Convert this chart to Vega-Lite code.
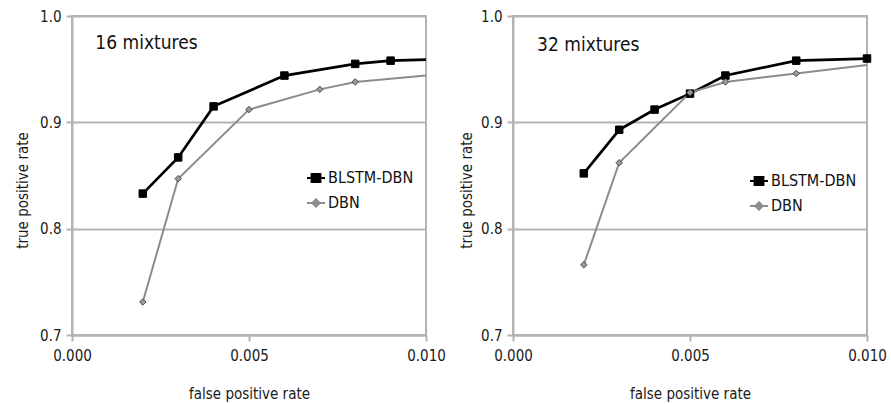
{
  "$schema": "https://vega.github.io/schema/vega-lite/v6.json",
  "padding": {"left": 14, "top": 8, "right": 0, "bottom": 0},
  "autosize": {"type": "pad"},
  "bounds": "flush",
  "spacing": 87,
  "data": {
    "values": [
      {"panel": "16", "series": "BLSTM-DBN", "fpr": 0.002, "tpr": 0.833},
      {"panel": "16", "series": "BLSTM-DBN", "fpr": 0.003, "tpr": 0.867},
      {"panel": "16", "series": "BLSTM-DBN", "fpr": 0.004, "tpr": 0.915},
      {"panel": "16", "series": "BLSTM-DBN", "fpr": 0.006, "tpr": 0.944},
      {"panel": "16", "series": "BLSTM-DBN", "fpr": 0.008, "tpr": 0.955},
      {"panel": "16", "series": "BLSTM-DBN", "fpr": 0.009, "tpr": 0.958},
      {"panel": "16", "series": "BLSTM-DBN", "fpr": 0.011, "tpr": 0.960},
      {"panel": "16", "series": "DBN", "fpr": 0.002, "tpr": 0.731},
      {"panel": "16", "series": "DBN", "fpr": 0.003, "tpr": 0.847},
      {"panel": "16", "series": "DBN", "fpr": 0.005, "tpr": 0.912},
      {"panel": "16", "series": "DBN", "fpr": 0.007, "tpr": 0.931},
      {"panel": "16", "series": "DBN", "fpr": 0.008, "tpr": 0.938},
      {"panel": "16", "series": "DBN", "fpr": 0.011, "tpr": 0.947},
      {"panel": "32", "series": "BLSTM-DBN", "fpr": 0.002, "tpr": 0.852},
      {"panel": "32", "series": "BLSTM-DBN", "fpr": 0.003, "tpr": 0.893},
      {"panel": "32", "series": "BLSTM-DBN", "fpr": 0.004, "tpr": 0.912},
      {"panel": "32", "series": "BLSTM-DBN", "fpr": 0.005, "tpr": 0.927},
      {"panel": "32", "series": "BLSTM-DBN", "fpr": 0.006, "tpr": 0.944},
      {"panel": "32", "series": "BLSTM-DBN", "fpr": 0.008, "tpr": 0.958},
      {"panel": "32", "series": "BLSTM-DBN", "fpr": 0.010, "tpr": 0.960},
      {"panel": "32", "series": "DBN", "fpr": 0.002, "tpr": 0.766},
      {"panel": "32", "series": "DBN", "fpr": 0.003, "tpr": 0.862},
      {"panel": "32", "series": "DBN", "fpr": 0.005, "tpr": 0.928},
      {"panel": "32", "series": "DBN", "fpr": 0.006, "tpr": 0.938},
      {"panel": "32", "series": "DBN", "fpr": 0.008, "tpr": 0.946},
      {"panel": "32", "series": "DBN", "fpr": 0.011, "tpr": 0.958}
    ]
  },
  "hconcat": [
    {
      "width": 354,
      "height": 319,
      "transform": [{"filter": "datum.panel === '16'"}],
      "layer": [
        {
          "mark": {"type": "line", "clip": true},
          "encoding": {
            "x": {"field": "fpr", "type": "quantitative", "scale": {"domain": [0, 0.01], "nice": false, "zero": false},
              "axis": {"values": [0, 0.005, 0.01], "format": ".3f", "title": "false positive rate", "titleY": 58, "titleBaseline": "middle"}},
            "y": {"field": "tpr", "type": "quantitative", "scale": {"domain": [0.7, 1.0], "nice": false, "zero": false},
              "axis": {"values": [0.7, 0.8, 0.9, 1.0], "format": ".1f", "title": "true positive rate", "titleX": -50, "titleY": 174, "titleBaseline": "middle", "titleAngle": 270}},
            "color": {"field": "series", "type": "nominal",
              "scale": {"domain": ["BLSTM-DBN", "DBN"], "range": ["#000000", "#8c8c8c"]},
              "legend": {"orient": "none", "legendX": 234, "legendY": 152, "title": null, "padding": 0,
                "symbolSize": 324, "rowPadding": 7, "labelOffset": 2, "labelFontSize": 16, "labelColor": "#111111",
                "encode": {"symbols": {"update": {
                  "shape": {"signal": "datum.value === 'DBN' ? 'M-1,0H1M0,-0.42L0.42,0L0,0.42L-0.42,0Z' : 'M-1,0H1M-0.5,-0.45H0.5V0.45H-0.5Z'"},
                  "fill": {"signal": "datum.value === 'DBN' ? '#9a9a9a' : '#000000'"},
                  "stroke": {"signal": "datum.value === 'DBN' ? '#707070' : '#000000'"},
                  "strokeWidth": {"value": 1.8},
                  "opacity": {"value": 1}
                }}}}},
            "strokeWidth": {"condition": {"test": "datum.series === 'DBN'", "value": 2}, "value": 2.7}
          }
        },
        {
          "transform": [{"filter": "datum.fpr <= 0.01000001"}],
          "mark": {"type": "point", "filled": true, "opacity": 1, "strokeWidth": 1},
          "encoding": {
            "x": {"field": "fpr", "type": "quantitative"},
            "y": {"field": "tpr", "type": "quantitative"},
            "shape": {"condition": {"test": "datum.series === 'DBN'", "value": "diamond"}, "value": "square"},
            "size": {"condition": {"test": "datum.series === 'DBN'", "value": 42}, "value": 56},
            "fill": {"condition": {"test": "datum.series === 'DBN'", "value": "#9a9a9a"}, "value": "#000000"},
            "stroke": {"condition": {"test": "datum.series === 'DBN'", "value": "#4d4d4d"}, "value": "#000000"}
          }
        },
        {
          "data": {"values": [{"label": "16 mixtures"}]},
          "mark": {"type": "text", "align": "left", "baseline": "middle", "fontSize": 19, "color": "#111111"},
          "encoding": {
            "x": {"datum": 0.00066, "type": "quantitative"},
            "y": {"datum": 0.9745, "type": "quantitative"},
            "text": {"field": "label"}
          }
        }
      ]
    },
    {
      "width": 354,
      "height": 319,
      "transform": [{"filter": "datum.panel === '32'"}],
      "layer": [
        {
          "mark": {"type": "line", "clip": true},
          "encoding": {
            "x": {"field": "fpr", "type": "quantitative", "scale": {"domain": [0, 0.01], "nice": false, "zero": false},
              "axis": {"values": [0, 0.005, 0.01], "format": ".3f", "title": "false positive rate", "titleY": 58, "titleBaseline": "middle"}},
            "y": {"field": "tpr", "type": "quantitative", "scale": {"domain": [0.7, 1.0], "nice": false, "zero": false},
              "axis": {"values": [0.7, 0.8, 0.9, 1.0], "format": ".1f", "title": "true positive rate", "titleX": -47, "titleY": 174, "titleBaseline": "middle", "titleAngle": 270}},
            "color": {"field": "series", "type": "nominal",
              "scale": {"domain": ["BLSTM-DBN", "DBN"], "range": ["#000000", "#8c8c8c"]},
              "legend": {"orient": "none", "legendX": 236, "legendY": 155, "title": null, "padding": 0,
                "symbolSize": 324, "rowPadding": 7, "labelOffset": 2, "labelFontSize": 16, "labelColor": "#111111",
                "encode": {"symbols": {"update": {
                  "shape": {"signal": "datum.value === 'DBN' ? 'M-1,0H1M0,-0.42L0.42,0L0,0.42L-0.42,0Z' : 'M-1,0H1M-0.5,-0.45H0.5V0.45H-0.5Z'"},
                  "fill": {"signal": "datum.value === 'DBN' ? '#9a9a9a' : '#000000'"},
                  "stroke": {"signal": "datum.value === 'DBN' ? '#707070' : '#000000'"},
                  "strokeWidth": {"value": 1.8},
                  "opacity": {"value": 1}
                }}}}},
            "strokeWidth": {"condition": {"test": "datum.series === 'DBN'", "value": 2}, "value": 2.7}
          }
        },
        {
          "transform": [{"filter": "datum.fpr <= 0.01000001"}],
          "mark": {"type": "point", "filled": true, "opacity": 1, "strokeWidth": 1},
          "encoding": {
            "x": {"field": "fpr", "type": "quantitative"},
            "y": {"field": "tpr", "type": "quantitative"},
            "shape": {"condition": {"test": "datum.series === 'DBN'", "value": "diamond"}, "value": "square"},
            "size": {"condition": {"test": "datum.series === 'DBN'", "value": 42}, "value": 56},
            "fill": {"condition": {"test": "datum.series === 'DBN'", "value": "#9a9a9a"}, "value": "#000000"},
            "stroke": {"condition": {"test": "datum.series === 'DBN'", "value": "#4d4d4d"}, "value": "#000000"}
          }
        },
        {
          "data": {"values": [{"label": "32 mixtures"}]},
          "mark": {"type": "text", "align": "left", "baseline": "middle", "fontSize": 19, "color": "#111111"},
          "encoding": {
            "x": {"datum": 0.00068, "type": "quantitative"},
            "y": {"datum": 0.9727, "type": "quantitative"},
            "text": {"field": "label"}
          }
        }
      ]
    }
  ],
  "resolve": {
    "scale": {"x": "independent", "y": "independent", "color": "independent"},
    "legend": {"color": "independent"}
  },
  "config": {
    "font": "DejaVu Sans Condensed, DejaVu Sans, sans-serif",
    "view": {"stroke": "#b3b3b3", "strokeWidth": 2},
    "axis": {
      "domainColor": "#b3b3b3", "domainWidth": 2,
      "tickColor": "#b3b3b3", "tickWidth": 2, "tickSize": 6,
      "gridColor": "#b3b3b3", "gridWidth": 2,
      "labelFont": "DejaVu Sans Condensed, DejaVu Sans, sans-serif", "labelFontSize": 15, "labelColor": "#1a1a1a",
      "titleFont": "DejaVu Sans Condensed, DejaVu Sans, sans-serif", "titleFontSize": 15, "titleFontWeight": "normal", "titleColor": "#1a1a1a"
    },
    "axisX": {"grid": false, "labelFlush": false, "labelPadding": 7},
    "axisY": {"grid": true, "labelPadding": 5},
    "legend": {"labelFont": "DejaVu Sans Condensed, DejaVu Sans, sans-serif"}
  }
}
